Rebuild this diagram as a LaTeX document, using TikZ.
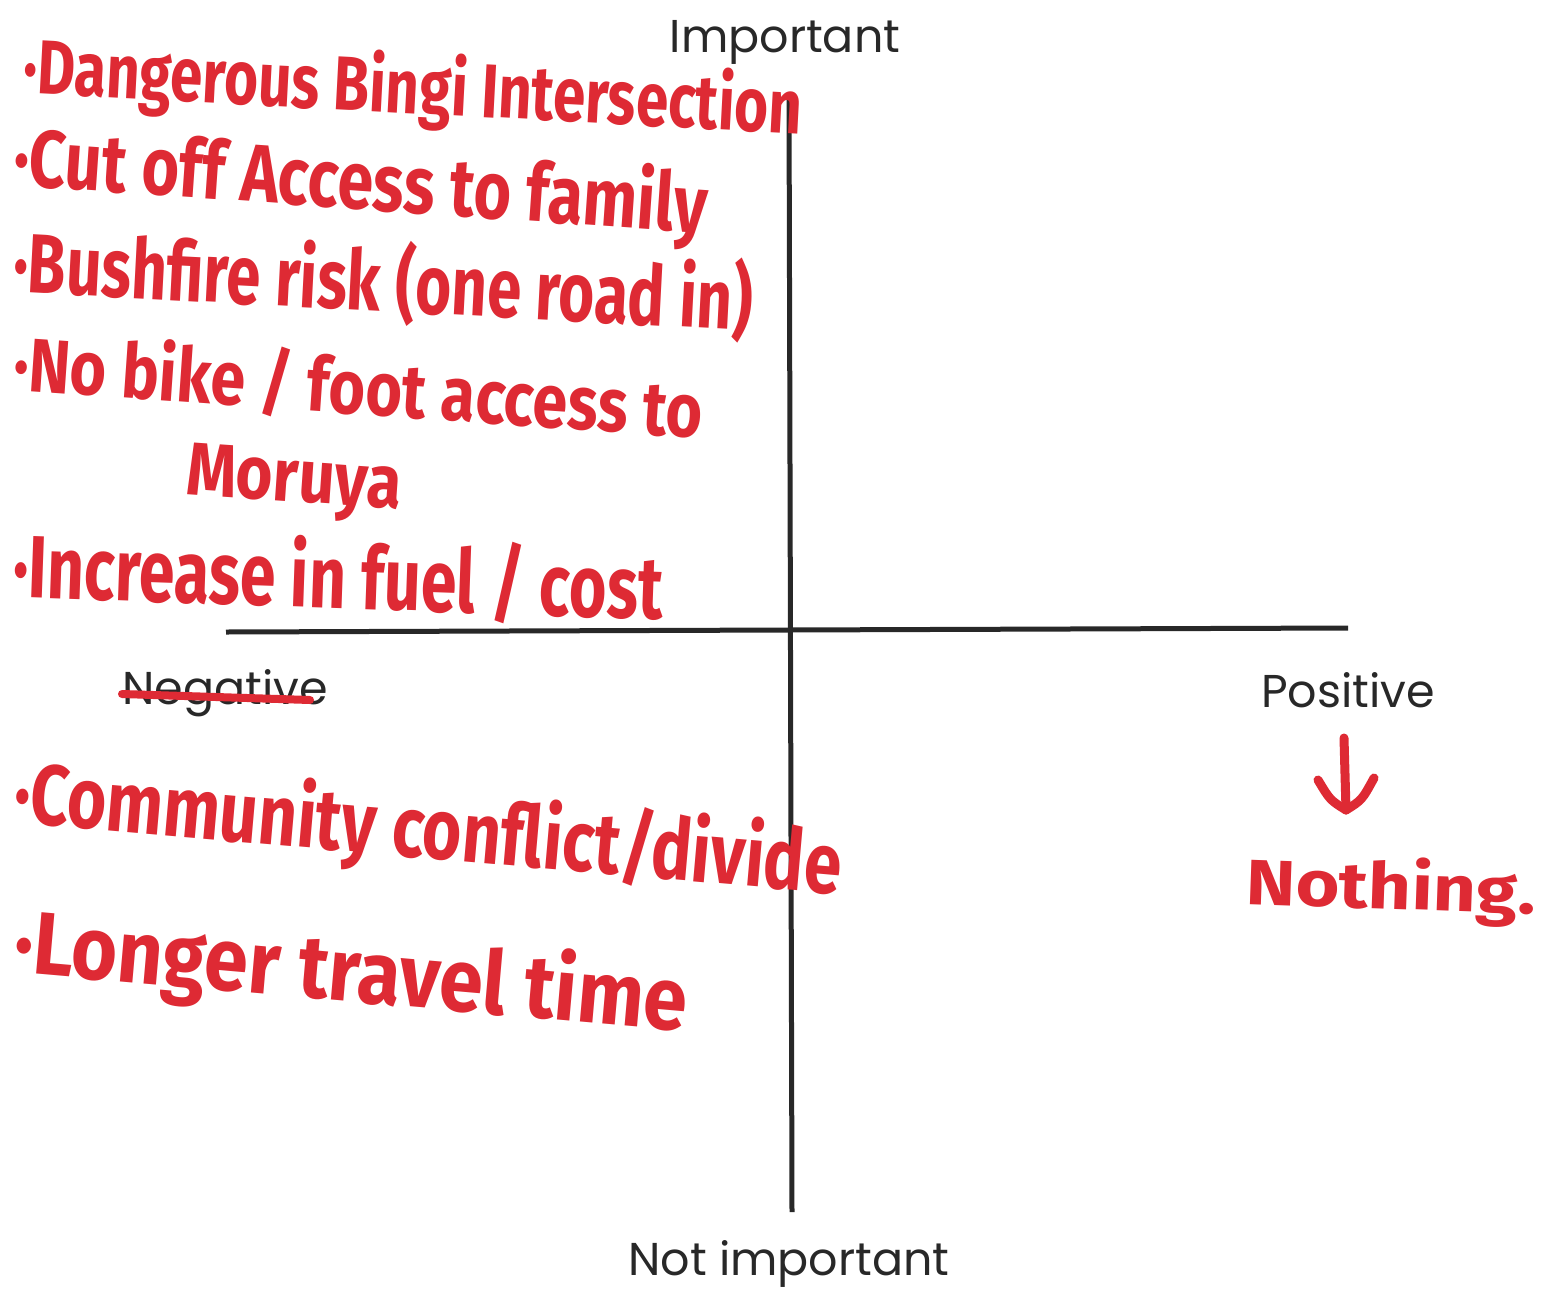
\documentclass[tikz,border=0pt]{standalone}
\usepackage{fontspec}
\setmainfont{Poppins}
\newfontfamily\handfont{Fira Sans}
\usepackage{graphicx}
\definecolor{marker}{RGB}{222,42,52}
\definecolor{axisgray}{RGB}{40,40,40}
\newcommand{\hw}[3]{\resizebox{#1pt}{#2pt}{\handfont\bfseries #3}}
\begin{document}
\begin{tikzpicture}[x=1pt,y=-1pt,
  axis/.style={draw=axisgray,line width=5pt},
  label/.style={font=\fontsize{46}{52}\selectfont,text=axisgray,inner sep=0pt},
  hand/.style={text=marker,inner sep=0pt,anchor=base west},
  stroke/.style={draw=marker,line width=9pt,line cap=round,line join=round}]
\useasboundingbox (0,0) rectangle (1553,1291);
\fill[white] (0,0) rectangle (1553,1291);
% axes
\coordinate (top) at (789,95);
\coordinate (bottom) at (792,1212);
\coordinate (left) at (226,632);
\coordinate (right) at (1348,628);
\draw[axis] (top) -- (bottom);
\draw[axis] (left) -- (right);
% typed labels
\node[label] (imp) at (785,42) {Important};
\node[label] (notimp) at (789,1264) {Not important};
\node[label] (pos) at (1348,690) {Positive};
\node[label] (neg) at (225,693) {Negative};
\coordinate (s1) at (122,694);
\coordinate (s2) at (310,700);
\draw[draw=marker,line width=8pt,line cap=round] (s1) -- (s2);
% handwritten notes
\node[hand,rotate=-3] (n1) at (22,93) {\hw{780}{62}{·Dangerous Bingi Intersection}};
\node[hand,rotate=-4] (n2) at (12,185) {\hw{695}{66}{·Cut off Access to family}};
\node[hand,rotate=-3] (n3) at (12,292) {\hw{740}{72}{·Bushfire risk (one road in)}};
\node[hand,rotate=-4] (n4) at (12,390) {\hw{690}{62}{·No bike / foot access to}};
\node[hand,rotate=-4] (n4b) at (185,494) {\hw{215}{52}{Moruya}};
\node[hand,rotate=-2] (n5) at (12,597) {\hw{650}{72}{·Increase in fuel / cost}};
\node[hand,rotate=-5] (n6) at (12,822) {\hw{830}{70}{·Community conflict/divide}};
\node[hand,rotate=-5] (n7) at (12,972) {\hw{675}{72}{·Longer travel time}};
\node[hand,rotate=-2] (n8) at (1245,904) {\hw{290}{52}{Nothing.}};
% arrow under Positive
\coordinate (a1) at (1344,738);
\coordinate (a2) at (1346,810);
\coordinate (c1) at (1318,780);
\coordinate (c2) at (1374,778);
\draw[stroke] (a1) -- (a2);
\draw[stroke] (c1) .. controls (1330,800) .. (a2) .. controls (1362,800) .. (c2);
\end{tikzpicture}
\end{document}
